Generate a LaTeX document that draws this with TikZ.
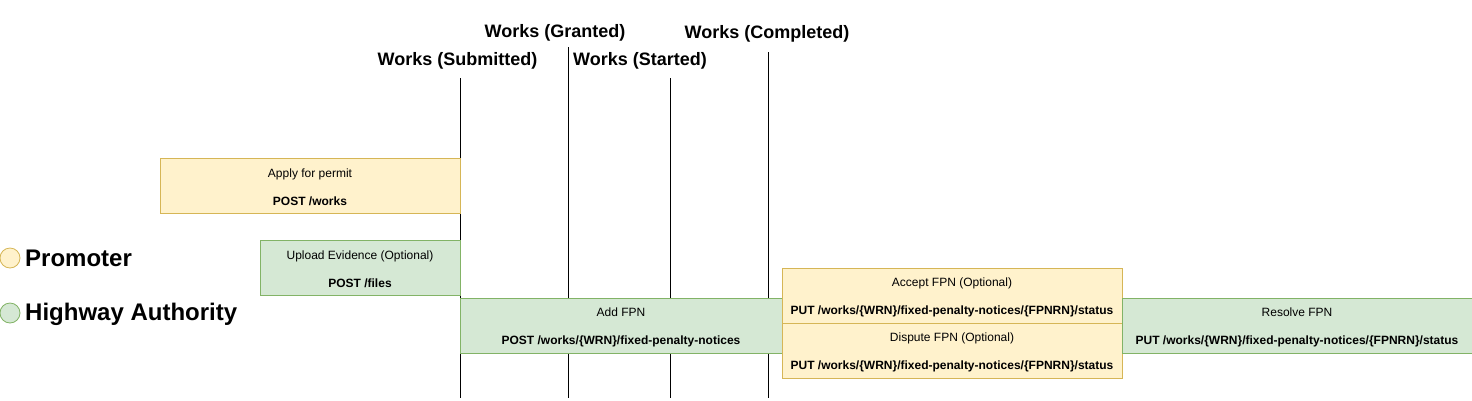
\documentclass[tikz,border=0pt]{standalone}
\usepackage{fontspec}
\setmainfont{Liberation Sans}
\definecolor{pfill}{HTML}{FFF2CC}
\definecolor{pdraw}{HTML}{D6B656}
\definecolor{hfill}{HTML}{D5E8D4}
\definecolor{hdraw}{HTML}{82B366}
\newcommand{\boxstrut}{\rule{0pt}{11.5pt}}
\begin{document}
\begin{tikzpicture}[x=1pt,y=-1pt,
  box/.style={draw, line width=1pt, inner sep=0pt, align=center, font=\fontsize{12}{14}\selectfont},
  prom/.style={box, fill=pfill, draw=pdraw},
  ha/.style={box, fill=hfill, draw=hdraw},
  statelbl/.style={font=\bfseries\fontsize{18}{21}\selectfont, inner sep=0pt},
  legendlbl/.style={font=\bfseries\fontsize{24}{28}\selectfont, inner sep=0pt, anchor=west},
  legenddot/.style={circle, minimum size=20pt, inner sep=0pt, line width=0.8pt},
  marker/.style={draw=black, line width=0.9pt}
]
\useasboundingbox (0,0) rectangle (1472,400);

% state labels
\node[statelbl] (lsub) at (457.5,61) {Works (Submitted)};
\node[statelbl] (lgra) at (555,33) {Works (Granted)};
\node[statelbl] (lsta) at (640,61) {Works (Started)};
\node[statelbl] (lcom) at (767,34) {Works (Completed)};

% state marker lines
\coordinate (subtop) at (460,78);  \coordinate (subbot) at (460,398);
\coordinate (gratop) at (568,47);  \coordinate (grabot) at (568,398);
\coordinate (statop) at (670,78);  \coordinate (stabot) at (670,398);
\coordinate (comtop) at (768,52);  \coordinate (combot) at (768,398);
\draw[marker] (subtop) -- (subbot);
\draw[marker] (gratop) -- (grabot);
\draw[marker] (statop) -- (stabot);
\draw[marker] (comtop) -- (combot);

% legend
\node[legenddot, fill=pfill, draw=pdraw] (pdot) at (10,258) {};
\node[legendlbl] (plbl) at (25,258) {Promoter};
\node[legenddot, fill=hfill, draw=hdraw] (hdot) at (10,313) {};
\node[legendlbl] (hlbl) at (25,314) {Highway Authority};

% boxes
\node[prom, minimum width=300pt, minimum height=55pt] (apply) at (310,185.5)
  {\boxstrut Apply for permit\\[14pt]\textbf{POST /works}};
\node[ha, minimum width=200pt, minimum height=55pt] (upload) at (360,267.5)
  {\boxstrut Upload Evidence (Optional)\\[14pt]\textbf{POST /files}};
\node[ha, minimum width=322pt, minimum height=55pt] (add) at (621,325.5)
  {\boxstrut Add FPN\\[14pt]\textbf{POST /works/\{WRN\}/fixed-penalty-notices}};
\node[prom, minimum width=340pt, minimum height=55pt] (accept) at (952,295.5)
  {\boxstrut Accept FPN (Optional)\\[14pt]\textbf{PUT /works/\{WRN\}/fixed-penalty-notices/\{FPNRN\}/status}};
\node[prom, minimum width=340pt, minimum height=55pt] (dispute) at (952,350.5)
  {\boxstrut Dispute FPN (Optional)\\[14pt]\textbf{PUT /works/\{WRN\}/fixed-penalty-notices/\{FPNRN\}/status}};
\node[ha, minimum width=350pt, minimum height=55pt] (resolve) at (1297,325.5)
  {\boxstrut Resolve FPN\\[14pt]\textbf{PUT /works/\{WRN\}/fixed-penalty-notices/\{FPNRN\}/status}};
\end{tikzpicture}
\end{document}
